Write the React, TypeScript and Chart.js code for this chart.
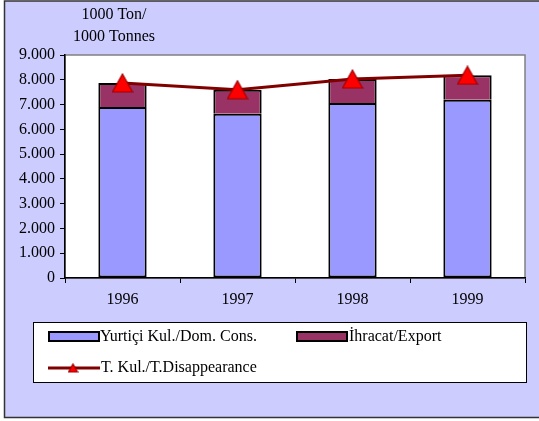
import React, { useEffect, useRef } from "react";
import { Chart, registerables } from "chart.js";

Chart.register(...registerables);

const categories = ["1996", "1997", "1998", "1999"];
const domCons = [6900, 6630, 7060, 7190];
const exportVals = [970, 970, 970, 990];
const totalDisappearance = [7870, 7600, 8030, 8180];
const yTicks = [0, 1000, 2000, 3000, 4000, 5000, 6000, 7000, 8000, 9000];
const titleLines = ["1000 Ton/", "1000 Tonnes"];
const seriesNames = ["Yurtiçi Kul./Dom. Cons.", "İhracat/Export", "T. Kul./T.Disappearance"];

const FONT = "'Liberation Serif', 'Times New Roman', serif";
const FS = 16;

function makeTriangle(w: number, h: number): HTMLCanvasElement {
  const c = document.createElement("canvas");
  c.width = w;
  c.height = h;
  const ctx = c.getContext("2d")!;
  ctx.beginPath();
  ctx.moveTo(w / 2, 1);
  ctx.lineTo(w - 1, h - 1);
  ctx.lineTo(1, h - 1);
  ctx.closePath();
  ctx.fillStyle = "#FF0000";
  ctx.fill();
  ctx.strokeStyle = "#A00000";
  ctx.lineWidth = 1.2;
  ctx.stroke();
  return c;
}

function fmt(v: number): string {
  const s = Math.round(v).toString();
  return s.replace(/\B(?=(\d{3})+(?!\d))/g, ".");
}

export default function App() {
  const ref = useRef<HTMLCanvasElement | null>(null);

  useEffect(() => {
    if (!ref.current) return;
    const marker = makeTriangle(22, 20);
    const smallMarker = makeTriangle(11, 10);

    const framePlugin = {
      id: "framePlugin",
      beforeDraw(chart: any) {
        const ctx = chart.ctx;
        const a = chart.chartArea;
        ctx.save();
        ctx.fillStyle = "#FFFFFF";
        ctx.fillRect(0, 0, chart.width, chart.height);
        ctx.fillStyle = "#CCCCFF";
        ctx.fillRect(4.5, 1, chart.width + 10, 416.5);
        ctx.strokeStyle = "#333333";
        ctx.lineWidth = 1.5;
        ctx.strokeRect(4.5, 1, chart.width + 10, 416.5);
        ctx.fillStyle = "#FFFFFF";
        ctx.fillRect(a.left, a.top, a.right - a.left, a.bottom - a.top);
        ctx.strokeStyle = "#808080";
        ctx.lineWidth = 1.5;
        ctx.strokeRect(a.left, a.top, a.right - a.left, a.bottom - a.top);
        ctx.fillStyle = "#000";
        ctx.font = `${FS}px ${FONT}`;
        ctx.textAlign = "center";
        ctx.textBaseline = "middle";
        ctx.fillText(titleLines[0], 114, 15);
        ctx.fillText(titleLines[1], 114, 37);
        ctx.restore();
      },
      afterDraw(chart: any) {
        const ctx = chart.ctx;
        ctx.save();
        // legend box
        ctx.fillStyle = "#FFFFFF";
        ctx.fillRect(33.5, 322.5, 493, 60);
        ctx.strokeStyle = "#000";
        ctx.lineWidth = 1;
        ctx.strokeRect(33.5, 322.5, 493, 60);
        ctx.font = `${FS}px ${FONT}`;
        ctx.textBaseline = "middle";
        ctx.textAlign = "left";
        // item 1
        ctx.fillStyle = "#9999FF";
        ctx.fillRect(49, 332, 50, 9);
        ctx.strokeStyle = "#000";
        ctx.lineWidth = 2;
        ctx.strokeRect(49, 332, 50, 9);
        ctx.fillStyle = "#000";
        ctx.fillText(seriesNames[0], 100, 337);
        // item 2
        ctx.fillStyle = "#993366";
        ctx.fillRect(297, 332, 50, 9);
        ctx.strokeRect(297, 332, 50, 9);
        ctx.fillStyle = "#000";
        ctx.fillText(seriesNames[1], 349, 337);
        // item 3
        ctx.strokeStyle = "#800000";
        ctx.lineWidth = 3;
        ctx.beginPath();
        ctx.moveTo(48, 368);
        ctx.lineTo(100, 368);
        ctx.stroke();
        ctx.drawImage(smallMarker, 73 - 5.5, 368 - 5);
        ctx.fillStyle = "#000";
        ctx.fillText(seriesNames[2], 101, 368);
        ctx.restore();
      },
    };

    const chart = new Chart(ref.current, {
      type: "bar",
      data: {
        labels: categories,
        datasets: [
          {
            type: "line",
            label: seriesNames[2],
            data: totalDisappearance,
            borderColor: "#800000",
            borderWidth: 3,
            pointStyle: marker as any,
            pointRadius: 11,
            pointHoverRadius: 11,
            fill: false,
            tension: 0,
            stack: "line",
            order: 0,
          } as any,
          {
            type: "bar",
            label: seriesNames[0],
            data: domCons,
            backgroundColor: "#9999FF",
            borderColor: "#000000",
            borderWidth: 2,
            borderSkipped: false,
            barPercentage: 0.42,
            categoryPercentage: 1,
            stack: "bars",
            order: 1,
          },
          {
            type: "bar",
            label: seriesNames[1],
            data: exportVals,
            backgroundColor: "#993366",
            borderColor: "#000000",
            borderWidth: 2,
            borderSkipped: "bottom",
            barPercentage: 0.42,
            categoryPercentage: 1,
            stack: "bars",
            order: 1,
          },
        ],
      },
      options: {
        responsive: false,
        animation: false,
        devicePixelRatio: 1,
        layout: { padding: { top: 55, right: 14, bottom: 113, left: 0 } },
        plugins: {
          legend: { display: false },
          tooltip: { enabled: false },
          title: { display: false },
        },
        scales: {
          x: {
            stacked: true,
            offset: true,
            grid: {
              offset: true,
              drawOnChartArea: false,
              drawTicks: true,
              tickLength: 5,
              color: "#000",
            },
            border: { color: "#000", width: 1.5 },
            ticks: { color: "#000", font: { family: FONT, size: FS }, padding: 7 },
            afterFit(scale: any) {
              scale.height = 30;
            },
          },
          y: {
            stacked: true,
            min: 0,
            max: 9000,
            afterBuildTicks(scale: any) {
              scale.ticks = yTicks.map((v) => ({ value: v }));
            },
            grid: {
              drawOnChartArea: false,
              drawTicks: true,
              tickLength: 5,
              color: "#000",
            },
            border: { color: "#000", width: 1.5 },
            ticks: {
              color: "#000",
              font: { family: FONT, size: FS },
              padding: 5,
              callback: (v: any) => fmt(Number(v)),
            },
            afterFit(scale: any) {
              scale.width = 65;
            },
          },
        },
      },
      plugins: [framePlugin],
    });
    return () => chart.destroy();
  }, []);

  return (
    <div style={{ position: "absolute", left: 0, top: 0, width: 539, height: 421 }}>
      <canvas ref={ref} width={539} height={421} style={{ width: 539, height: 421, display: "block" }} />
    </div>
  );
}
